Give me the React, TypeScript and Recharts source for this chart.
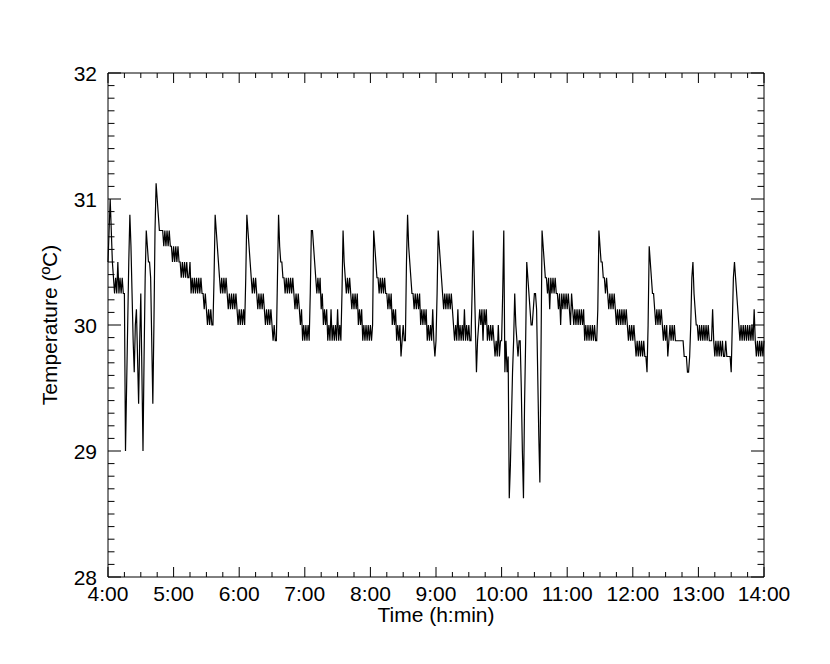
import React from 'react';
import { LineChart, Line, XAxis, YAxis, ReferenceLine } from 'recharts';

// Temperature (ºC), one reading per minute, one array per hour (4:00 .. 13:59)
const hour04 = [30.5, 30.75, 31.0, 30.75, 30.5, 30.375, 30.25, 30.375, 30.25, 30.5,
  30.25, 30.375, 30.25, 30.375, 30.25, 30.25, 29.0, 29.5, 30.0, 30.5,
  30.875, 30.625, 30.25, 29.875, 29.625, 30.0, 30.125, 29.75, 29.375, 29.875,
  30.25, 29.625, 29.0, 29.75, 30.375, 30.75, 30.625, 30.5, 30.5, 30.375,
  29.875, 29.375, 30.0, 30.75, 31.125, 31.0, 30.875, 30.75, 30.75, 30.75,
  30.75, 30.625, 30.75, 30.625, 30.75, 30.625, 30.75, 30.625, 30.625, 30.5];
const hour05 = [30.625, 30.5, 30.625, 30.5, 30.625, 30.5, 30.5, 30.375, 30.5, 30.375,
  30.5, 30.375, 30.5, 30.375, 30.375, 30.5, 30.25, 30.375, 30.25, 30.375,
  30.25, 30.375, 30.25, 30.375, 30.25, 30.375, 30.25, 30.25, 30.125, 30.25,
  30.125, 30.0, 30.125, 30.0, 30.125, 30.0, 30.0, 30.375, 30.875, 30.75,
  30.625, 30.5, 30.375, 30.25, 30.375, 30.25, 30.375, 30.25, 30.375, 30.25,
  30.125, 30.25, 30.125, 30.25, 30.125, 30.25, 30.125, 30.25, 30.125, 30.0];
const hour06 = [30.125, 30.0, 30.125, 30.0, 30.125, 30.0, 30.375, 30.875, 30.75, 30.625,
  30.5, 30.375, 30.25, 30.375, 30.25, 30.375, 30.25, 30.125, 30.25, 30.125,
  30.25, 30.125, 30.25, 30.125, 30.0, 30.125, 30.0, 30.125, 30.0, 30.125,
  30.0, 29.875, 30.0, 29.875, 29.875, 30.375, 30.875, 30.625, 30.5, 30.5,
  30.375, 30.375, 30.25, 30.375, 30.25, 30.375, 30.25, 30.375, 30.25, 30.375,
  30.25, 30.125, 30.25, 30.125, 30.25, 30.125, 30.0, 30.125, 29.875, 30.0];
const hour07 = [29.875, 30.0, 29.875, 30.0, 29.875, 30.25, 30.75, 30.75, 30.625, 30.5,
  30.375, 30.25, 30.375, 30.25, 30.375, 30.125, 30.25, 30.0, 30.125, 30.0,
  30.125, 29.875, 30.0, 29.875, 30.125, 29.875, 30.0, 29.875, 30.0, 29.875,
  30.125, 29.875, 30.0, 29.875, 30.25, 30.75, 30.5, 30.375, 30.25, 30.375,
  30.25, 30.375, 30.25, 30.125, 30.25, 30.125, 30.25, 30.125, 30.25, 30.0,
  30.125, 30.0, 30.125, 29.875, 30.0, 29.875, 30.0, 29.875, 30.0, 29.875];
const hour08 = [30.0, 29.875, 30.0, 30.75, 30.625, 30.5, 30.375, 30.375, 30.25, 30.375,
  30.25, 30.375, 30.25, 30.375, 30.25, 30.25, 30.125, 30.25, 30.125, 30.25,
  30.0, 30.125, 30.0, 30.125, 29.875, 30.0, 29.875, 30.0, 29.75, 29.875,
  30.0, 29.875, 29.875, 30.5, 30.875, 30.625, 30.5, 30.375, 30.25, 30.25,
  30.125, 30.25, 30.125, 30.25, 30.125, 30.25, 30.0, 30.125, 30.0, 30.125,
  30.0, 30.125, 29.875, 30.0, 29.875, 30.0, 29.875, 30.125, 29.875, 29.75];
const hour09 = [29.875, 30.25, 30.75, 30.625, 30.5, 30.375, 30.25, 30.125, 30.25, 30.125,
  30.25, 30.125, 30.25, 30.125, 30.25, 30.125, 30.0, 29.875, 30.0, 29.875,
  30.125, 29.875, 30.0, 29.875, 30.0, 29.875, 30.125, 29.875, 30.0, 29.875,
  30.0, 29.875, 29.875, 30.25, 30.75, 30.375, 30.0, 29.625, 29.875, 30.0,
  30.125, 30.0, 30.125, 29.875, 30.125, 30.0, 30.125, 29.875, 30.0, 29.875,
  30.0, 29.875, 30.0, 29.875, 29.75, 29.875, 29.75, 30.0, 29.75, 29.875];
const hour10 = [29.875, 30.25, 30.75, 29.625, 29.875, 29.625, 29.75, 28.625, 28.875, 29.25,
  29.625, 29.875, 30.25, 30.0, 29.875, 29.75, 29.875, 29.875, 29.5, 29.0,
  28.625, 29.375, 29.875, 30.5, 30.375, 30.25, 30.125, 30.0, 30.0, 30.125,
  30.25, 30.25, 30.125, 29.625, 29.125, 28.75, 29.75, 30.75, 30.625, 30.5,
  30.375, 30.375, 30.25, 30.375, 30.125, 30.375, 30.25, 30.375, 30.25, 30.375,
  30.25, 30.25, 30.125, 30.25, 30.0, 30.25, 30.125, 30.25, 30.125, 30.25];
const hour11 = [30.125, 30.25, 30.125, 30.0, 30.25, 30.125, 30.0, 30.125, 30.0, 30.125,
  30.0, 30.125, 30.0, 30.125, 30.0, 30.125, 29.875, 30.0, 29.875, 30.0,
  29.875, 30.0, 29.875, 30.0, 29.875, 30.0, 29.875, 29.875, 30.125, 30.75,
  30.625, 30.5, 30.5, 30.375, 30.375, 30.25, 30.375, 30.25, 30.125, 30.25,
  30.125, 30.25, 30.125, 30.25, 30.125, 30.0, 30.125, 30.0, 30.125, 30.0,
  30.125, 30.0, 30.125, 30.0, 30.125, 30.0, 29.875, 30.0, 29.875, 30.0];
const hour12 = [29.875, 30.0, 29.875, 29.75, 29.875, 29.75, 29.875, 29.75, 29.875, 29.75,
  29.875, 29.75, 29.75, 29.625, 30.0, 30.625, 30.5, 30.375, 30.25, 30.25,
  30.125, 30.0, 30.125, 30.0, 30.125, 30.0, 30.125, 30.0, 29.875, 30.0,
  29.875, 30.0, 29.75, 29.875, 30.0, 29.875, 30.0, 29.875, 30.0, 29.875,
  29.875, 29.875, 29.875, 29.875, 29.875, 29.875, 29.875, 29.75, 29.75, 29.75,
  29.625, 29.625, 29.75, 30.0, 30.375, 30.5, 30.25, 30.125, 30.0, 30.0];
const hour13 = [29.875, 30.0, 29.875, 30.0, 29.875, 30.0, 29.875, 30.0, 29.875, 30.0,
  29.875, 29.875, 29.875, 30.125, 29.875, 29.75, 29.875, 29.75, 29.875, 29.75,
  29.875, 29.75, 29.875, 29.75, 29.75, 29.875, 29.75, 29.75, 29.75, 29.75,
  29.625, 30.0, 30.375, 30.5, 30.375, 30.25, 30.125, 30.0, 29.875, 30.0,
  29.875, 30.0, 29.875, 30.0, 29.875, 30.0, 29.875, 30.0, 29.875, 30.0,
  29.875, 30.125, 29.875, 29.75, 29.875, 29.75, 29.875, 29.75, 29.875, 29.75];
const hour14 = [29.875];

const stepMinutes = 1;
const xMajorTicks = [0, 60, 120, 180, 240, 300, 360, 420, 480, 540, 600];
const xTickLabels = ['4:00', '5:00', '6:00', '7:00', '8:00', '9:00', '10:00', '11:00', '12:00', '13:00', '14:00'];
const yMajorTicks = [28, 29, 30, 31, 32];
const yTickLabels = ['28', '29', '30', '31', '32'];

const temps = [...hour04, ...hour05, ...hour06, ...hour07, ...hour08, ...hour09, ...hour10, ...hour11, ...hour12, ...hour13, ...hour14];
const data = temps.map((v, i) => ({ t: i * stepMinutes, v }));

const X_MIN = 0;
const X_MAX = 600;
const Y_MIN = 28;
const Y_MAX = 32;

// all tick positions: every 15 min on x, every 0.1 ºC on y
const xAllTicks = Array.from({ length: 41 }, (_, i) => i * 15);
const yAllTicks = Array.from({ length: 41 }, (_, i) => (280 + i) / 10);

// plot size in px, used only to turn tick lengths (px) into data units
const PLOT_W = 656;
const PLOT_H = 504;
const xTickLen = (major: boolean) => ((major ? 10 : 5) * (Y_MAX - Y_MIN)) / PLOT_H; // vertical ticks, in ºC
const yTickLen = (major: boolean) => ((major ? 13 : 6.5) * (X_MAX - X_MIN)) / PLOT_W; // horizontal ticks, in minutes

const FONT = '"Liberation Sans", Arial, Helvetica, sans-serif';
const FS = 21;

const BottomLabel = (props: any) => {
  const { x, y, payload } = props;
  const idx = xMajorTicks.indexOf(payload.value);
  if (idx < 0) return <g />;
  return (
    <text x={x} y={y + 24} textAnchor="middle" fontSize={FS} fontFamily={FONT} fill="#000">
      {xTickLabels[idx]}
    </text>
  );
};

const LeftLabel = (props: any) => {
  const { x, y, payload } = props;
  const idx = yMajorTicks.indexOf(payload.value);
  if (idx < 0) return <g />;
  return (
    <text x={x - 11} y={y + 7.5} textAnchor="end" fontSize={FS} fontFamily={FONT} fill="#000">
      {yTickLabels[idx]}
    </text>
  );
};

const XTitle = (props: any) => {
  const vb = props.viewBox || {};
  return (
    <text x={vb.x + vb.width / 2} y={vb.y + 45} textAnchor="middle" fontSize={FS} fontFamily={FONT} fill="#000">
      Time (h:min)
    </text>
  );
};

const YTitle = (props: any) => {
  const vb = props.viewBox || {};
  const cx = 49;
  const cy = vb.y + vb.height / 2;
  return (
    <text x={cx} y={cy} transform={`rotate(-90, ${cx}, ${cy})`} textAnchor="middle" fontSize={FS} fontFamily={FONT} fill="#000">
      Temperature (ºC)
    </text>
  );
};

export default function App() {
  const tickMarks: React.ReactNode[] = [];
  xAllTicks.forEach((t) => {
    const len = xTickLen(t % 60 === 0);
    tickMarks.push(
      <ReferenceLine key={`xb${t}`} xAxisId="b" yAxisId="l" segment={[{ x: t, y: Y_MIN }, { x: t, y: Y_MIN + len }]} stroke="#000" strokeWidth={1} ifOverflow="extendDomain" />,
      <ReferenceLine key={`xt${t}`} xAxisId="b" yAxisId="l" segment={[{ x: t, y: Y_MAX - len }, { x: t, y: Y_MAX }]} stroke="#000" strokeWidth={1} ifOverflow="extendDomain" />
    );
  });
  yAllTicks.forEach((v, i) => {
    const len = yTickLen(i % 10 === 0);
    tickMarks.push(
      <ReferenceLine key={`yl${i}`} xAxisId="b" yAxisId="l" segment={[{ x: X_MIN, y: v }, { x: X_MIN + len, y: v }]} stroke="#000" strokeWidth={1} ifOverflow="extendDomain" />,
      <ReferenceLine key={`yr${i}`} xAxisId="b" yAxisId="l" segment={[{ x: X_MAX - len, y: v }, { x: X_MAX, y: v }]} stroke="#000" strokeWidth={1} ifOverflow="extendDomain" />
    );
  });

  return (
    <div style={{ width: 822, height: 650, background: '#fff' }}>
      <LineChart width={822} height={650} data={data} margin={{ top: 65, right: 66, bottom: 51, left: 60 }}>
        <XAxis
          xAxisId="b"
          dataKey="t"
          type="number"
          domain={[X_MIN, X_MAX]}
          ticks={xMajorTicks}
          interval={0}
          orientation="bottom"
          height={30}
          tickSize={0}
          tickMargin={0}
          tickLine={false}
          axisLine={{ stroke: '#000', strokeWidth: 1 }}
          tick={(p: any) => <BottomLabel {...p} />}
          label={<XTitle />}
        />
        <YAxis
          yAxisId="l"
          type="number"
          domain={[Y_MIN, Y_MAX]}
          ticks={yMajorTicks}
          interval={0}
          orientation="left"
          width={40}
          tickSize={0}
          tickMargin={0}
          tickLine={false}
          axisLine={{ stroke: '#000', strokeWidth: 1 }}
          tick={(p: any) => <LeftLabel {...p} />}
          label={<YTitle />}
        />
        <ReferenceLine xAxisId="b" yAxisId="l" y={Y_MAX} stroke="#000" strokeWidth={1} />
        <ReferenceLine xAxisId="b" yAxisId="l" x={X_MAX} stroke="#000" strokeWidth={1} />
        {tickMarks}
        <Line
          xAxisId="b"
          yAxisId="l"
          type="linear"
          dataKey="v"
          stroke="#000"
          strokeWidth={1.2}
          dot={false}
          activeDot={false}
          isAnimationActive={false}
        />
      </LineChart>
    </div>
  );
}
